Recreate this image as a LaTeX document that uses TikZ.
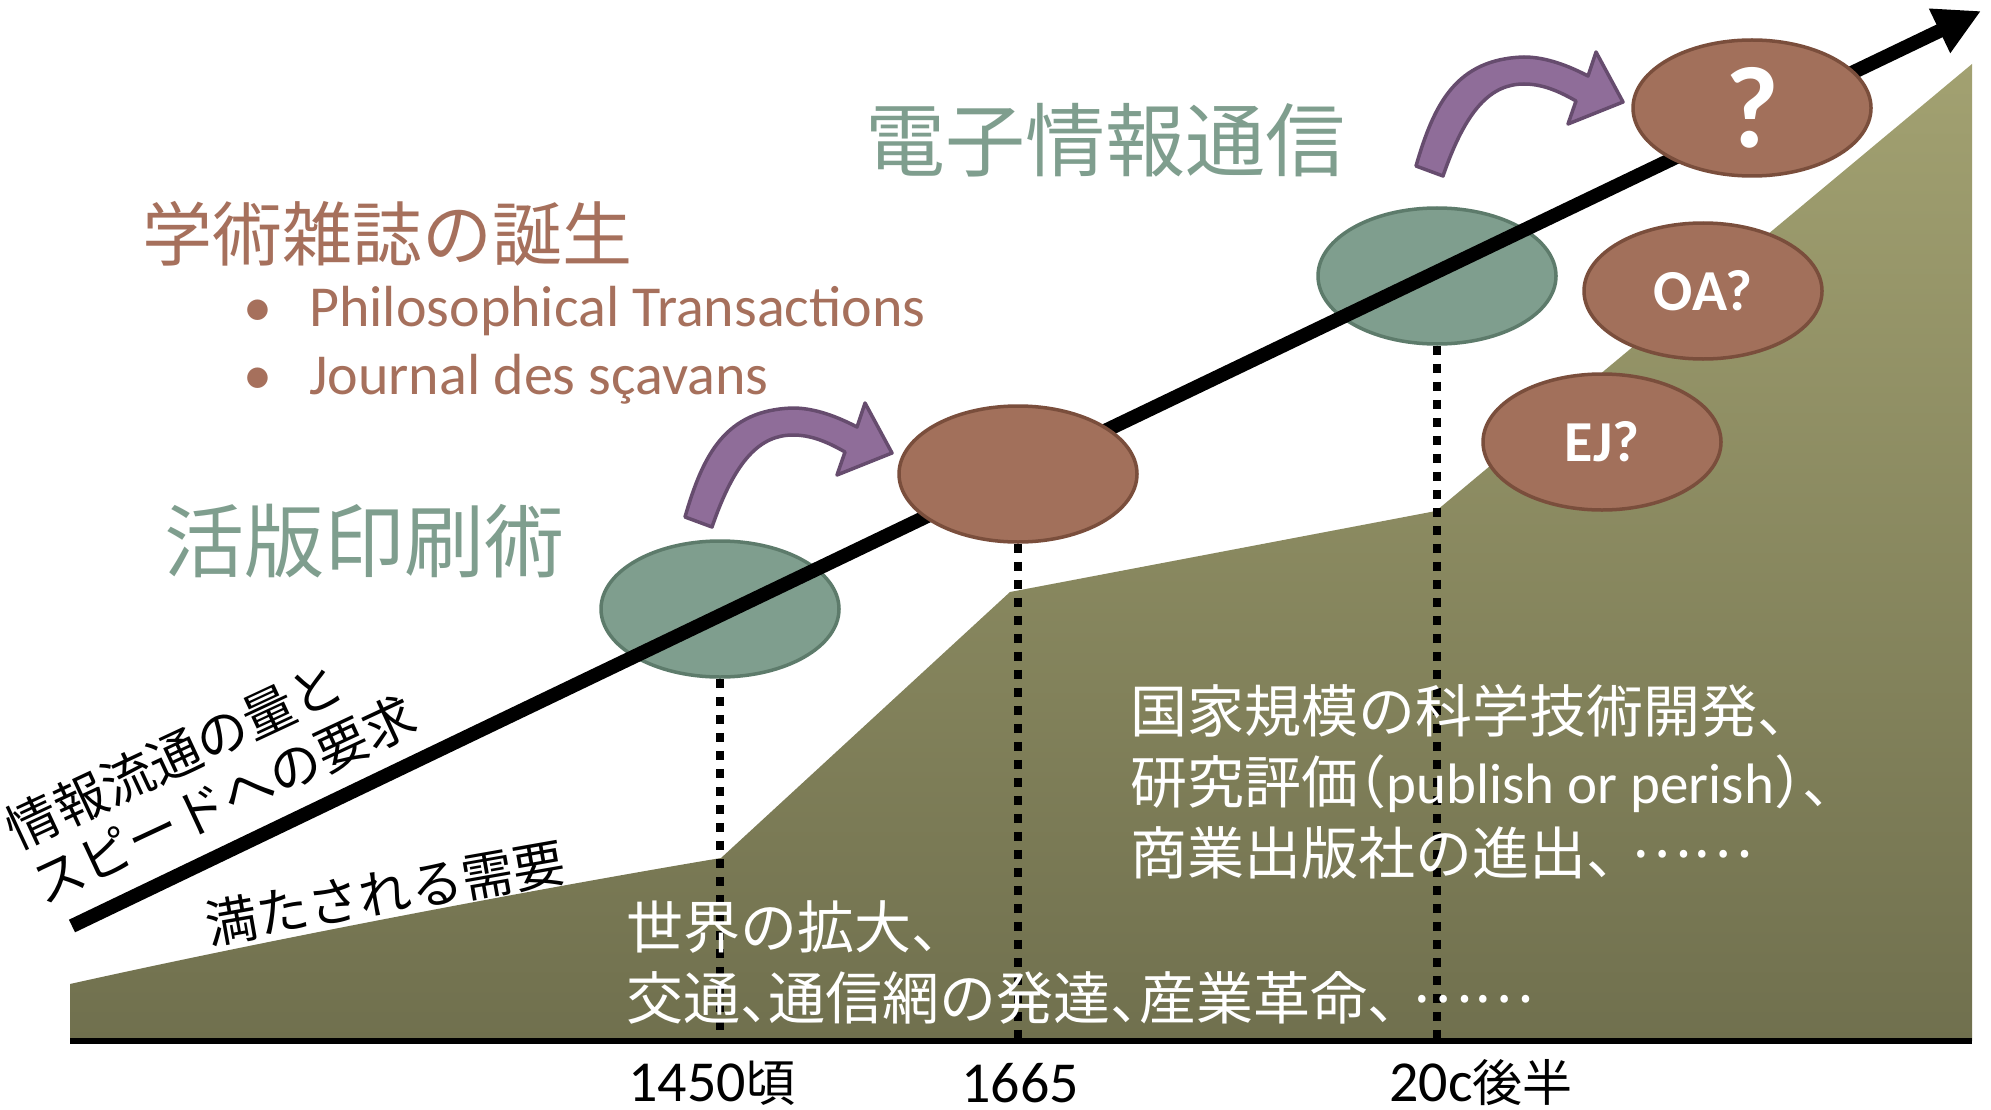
\documentclass[tikz,border=0pt]{standalone}
\usepackage{fontspec}
\setmainfont{Carlito}
\newfontfamily\jpfont[RawFeature=+halt]{Noto Sans CJK JP}
\usetikzlibrary{arrows.meta}
\usetikzlibrary{shapes.geometric}

\definecolor{sage}{RGB}{127,158,142}
\definecolor{sageline}{RGB}{93,123,107}
\definecolor{clay}{RGB}{162,112,91}
\definecolor{clayline}{RGB}{122,78,60}
\definecolor{claytext}{RGB}{166,112,92}
\definecolor{plum}{RGB}{143,109,153}
\definecolor{plumline}{RGB}{102,76,110}
\definecolor{olivetop}{RGB}{162,161,113}
\definecolor{olivebot}{RGB}{112,112,78}

\begin{document}
\begin{tikzpicture}[x=1pt,y=-1pt,
    oval/.style={ellipse,minimum width=238pt,minimum height=136pt,inner sep=0pt,line width=3.5pt},
    green oval/.style={oval,draw=sageline,fill=sage},
    brown oval/.style={oval,draw=clayline,fill=clay,text=white,font=\bfseries\fontsize{58}{60}\selectfont},
    drop line/.style={line width=8pt,dash pattern=on 9pt off 9pt},
    bend arrow/.style={fill=plum,draw=plumline,line width=3.5pt,line join=round},
    txt/.style={inner sep=0pt},
    green title/.style={txt,text=sage,font=\jpfont\fontsize{80}{90}\selectfont},
    brown title/.style={txt,text=claytext,font=\jpfont\fontsize{70}{80}\selectfont},
    bullet text/.style={txt,text=claytext,font=\fontsize{58}{69}\selectfont},
    black note/.style={txt,align=left,font=\jpfont\fontsize{52}{61}\selectfont},
    white note/.style={txt,align=left,text=white,font=\jpfont\fontsize{57}{71}\selectfont},
    year/.style={txt,font=\fontsize{58}{60}\selectfont}]

  \fill[white] (0,0) rectangle (1991,1110);
  \useasboundingbox (0,0) rectangle (1991,1110);

  \shade[top color=olivetop,bottom color=olivebot]
    (70,984) .. controls (290,935) and (560,885) .. (721,858) -- (1010,592)
    -- (1436,511) -- (1972,64) -- (1972,1041) -- (70,1041) -- cycle;

  \coordinate (axisL) at (70,1041);
  \coordinate (axisR) at (1972,1041);
  \draw[line width=6pt] (axisL) -- (axisR);

  \node[green oval](print) at (720,609) {};
  \node[green oval](digital) at (1437,276) {};

  \coordinate (demand0) at (72,926);
  \coordinate (demand1) at (1981,11);
  \draw[line width=14pt,-{Triangle[length=46pt,width=46pt]}] (demand0) -- (demand1);

  \node[brown oval](journal) at (1018,474) {};
  \node[brown oval,font=\bfseries\fontsize{116}{120}\selectfont](next) at (1752,108) {?};
  \node[brown oval](oa) at (1703,291) {OA?};
  \node[brown oval](ej) at (1602,442) {EJ?};

  \draw[drop line] (print.south) -- (print.south |- axisL);
  \draw[drop line] (journal.south) -- (journal.south |- axisL);
  \draw[drop line] (digital.south) -- (digital.south |- axisL);

  \foreach \dx/\dy in {0/0,731/-351}
    \filldraw[bend arrow,shift={(\dx,\dy)}]
      (685,517) .. controls (703,455) and (725,410) .. (793,408)
      .. controls (815,408) and (838,417) .. (857,427) -- (865,403) -- (892,453)
      -- (837,475) -- (845,452) .. controls (826,441) and (810,435) .. (793,435)
      .. controls (760,435) and (735,460) .. (712,527) -- cycle;

  \node[green title](denshi) at (1105,140) {電子情報通信};
  \node[brown title](gakujutsu) at (387,234) {学術雑誌の誕生};
  \node[bullet text,anchor=base](b1) at (258,326) {•};
  \node[bullet text,anchor=base west](philtrans) at (309,326) {Philosophical Transactions};
  \node[bullet text,anchor=base](b2) at (258,394) {•};
  \node[bullet text,anchor=base west](savans) at (309,394) {Journal des sçavans};
  \node[green title](kappan) at (364,541) {活版印刷術};

  \node[black note,rotate=25](request) at (211,772) {情報流通の量と\\スピードへの要求};
  \node[black note,rotate=10](satisfied) at (385,893) {満たされる需要};

  \node[white note,anchor=west](world) at (626,963)
    {世界の拡大、\\交通、通信網の発達、産業革命、\hspace{.3em}\raisebox{.3em}{……}};
  \node[white note,anchor=west](national) at (1130,782)
    {国家規模の科学技術開発、\\研究評価（{\rmfamily publish or perish}）、\\商業出版社の進出、\hspace{.3em}\raisebox{.3em}{……}};

  \node[year](y1450) at (712,1083) {1450{\jpfont\fontsize{50}{60}\selectfont 頃}};
  \node[year](y1665) at (1020,1083) {1665};
  \node[year](y20c) at (1481,1083) {20c{\jpfont\fontsize{50}{60}\selectfont 後半}};
\end{tikzpicture}
\end{document}
